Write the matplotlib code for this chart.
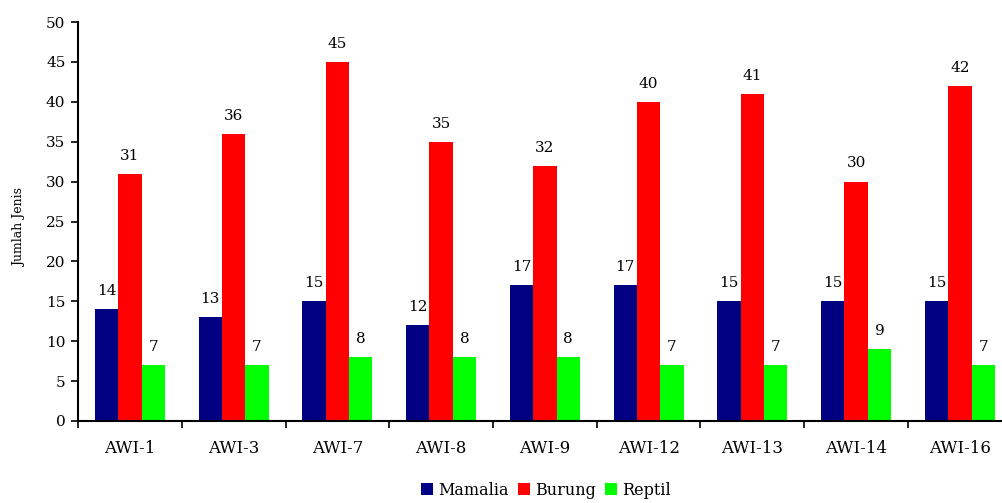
import numpy as np
import matplotlib
matplotlib.use("Agg")
import matplotlib.pyplot as plt

plt.rcParams['font.family'] = ['DejaVu Serif']

sites = ['AWI-1', 'AWI-3', 'AWI-7', 'AWI-8', 'AWI-9', 'AWI-12', 'AWI-13', 'AWI-14', 'AWI-16']
mamalia = [14, 13, 15, 12, 17, 17, 15, 15, 15]
burung = [31, 36, 45, 35, 32, 40, 41, 30, 42]
reptil = [7, 7, 8, 8, 8, 7, 7, 9, 7]

fig = plt.figure(figsize=(10.02, 5.03), dpi=100)
# axes runs a little past the right edge of the figure
ax = fig.add_axes([78 / 1002, 82 / 503, (1011.75 - 78) / 1002, 399 / 503])

x = np.arange(len(sites))
w = 0.225
series = [('Mamalia', mamalia, '#000080'),
          ('Burung', burung, '#FF0000'),
          ('Reptil', reptil, '#00FF00')]
for i, (name, vals, col) in enumerate(series):
    pos = x + (i - 1) * w
    ax.bar(pos, vals, width=w, color=col, label=name, linewidth=0)
    for p, v in zip(pos, vals):
        ax.annotate(str(v), (p, v), xytext=(0, 8), textcoords='offset points',
                    ha='center', va='bottom', fontsize=11)

ax.set_xlim(-0.5, len(sites) - 0.5)
ax.set_ylim(0, 50)
ax.set_yticks(range(0, 51, 5))
# category boundaries get the tick marks, names sit between them
ax.set_xticks(np.arange(len(sites) + 1) - 0.5)
ax.set_xticklabels([])
ax.set_xticks(x, minor=True)
ax.set_xticklabels(sites, minor=True)
ax.tick_params(axis='x', which='minor', length=0, pad=14, labelsize=12)
ax.tick_params(axis='x', which='major', length=5, direction='out', width=1.2)
ax.tick_params(axis='y', length=5, width=1.2, labelsize=11, pad=4)

ax.spines['top'].set_visible(False)
ax.spines['right'].set_visible(False)
ax.spines['left'].set_linewidth(1.5)
ax.spines['bottom'].set_linewidth(1.5)
ax.set_ylabel('Jumlah Jenis', fontsize=9)
ax.yaxis.set_label_coords(-0.056, 0.484)

fig.legend(loc='lower center', bbox_to_anchor=(0.545, -0.02), ncol=3, frameon=False,
           fontsize=11.5, handlelength=0.75, handleheight=0.75, handletextpad=0.3,
           columnspacing=0.6)

fig.savefig('out.png', dpi=100)
